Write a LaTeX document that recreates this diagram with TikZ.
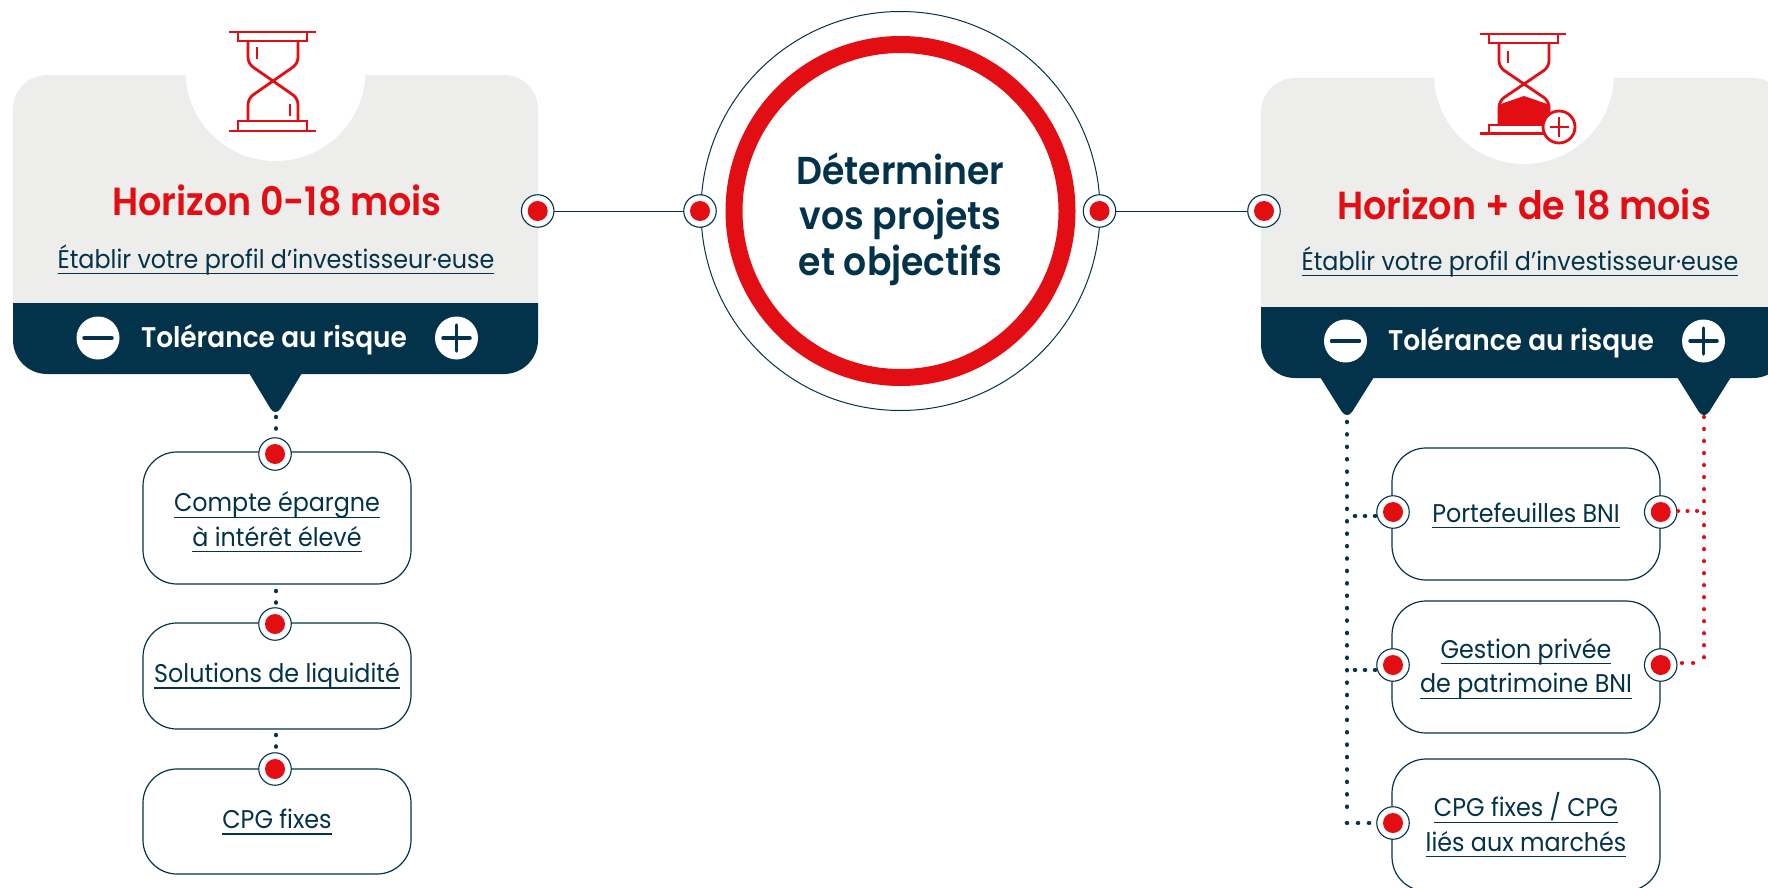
\documentclass[tikz,border=0pt]{standalone}
\usepackage{fontspec}
\setmainfont{Poppins}[BoldFont={Poppins SemiBold},FakeStretch=0.93]
\definecolor{brandnavy}{HTML}{03334A}
\definecolor{brandred}{HTML}{E30E13}
\definecolor{panelgray}{HTML}{EDEDEB}
% underlined text with a fixed strut
\newcommand{\lnktext}[1]{\setbox0=\hbox{#1}\rlap{\rule[-6pt]{\wd0}{1.2pt}}\box0\rule[-8pt]{0pt}{32pt}}
\tikzset{
  port/.style={circle, draw=brandnavy, fill=white, line width=1.1pt, minimum size=32.5pt, inner sep=0pt, outer sep=0pt,
    path picture={\fill[brandred] (path picture bounding box.center) circle (10);}},
  optbox/.style={draw=brandnavy, line width=1.2pt, rounded corners=34pt, minimum width=268pt, inner sep=0pt, outer sep=0pt},
  optlabel/.style={text=brandnavy, align=center, font=\fontsize{25.6}{34.5}\selectfont},
  titletext/.style={text=brandred, anchor=base, font=\fontsize{39.2}{45}\selectfont\bfseries},
  profiletext/.style={text=brandnavy, anchor=base, font=\fontsize{25.6}{30}\selectfont},
  bandtext/.style={text=white, anchor=base, font=\fontsize{28.4}{32}\selectfont\bfseries},
  signdisc/.style={circle, fill=white, minimum size=43pt, inner sep=0pt},
  signbar/.style={draw=brandnavy, line width=3.5pt, line cap=round},
  glassline/.style={draw=brandred, line width=2.8pt},
  navydots/.style={draw=brandnavy, line width=4.6pt, line cap=round, dash pattern=on 0.01pt off 12.4pt},
  reddots/.style={draw=brandred, line width=4.2pt, line cap=round, dash pattern=on 0.01pt off 12pt},
}
\begin{document}
\begin{tikzpicture}[x=1pt, y=-1pt, thick]

  \clip (0,0) rectangle (1768,888);

  % Left panel
  \fill[panelgray, rounded corners=34pt] (13,303) -- (13,75) -- (538,75) -- (538,303);
  \fill[brandnavy, rounded corners=34pt] (13,303) -- (13,374) -- (538,374) -- (538,303);
  \fill[brandnavy, rounded corners=10pt] (249,373) -- (275.5,417) -- (302,373);
  \fill[white] (275.5,71) circle (90);

  % Right panel, runs off the page
  \fill[panelgray, rounded corners=34pt] (1261,307) -- (1261,78) -- (1787,78) -- (1787,307);
  \fill[brandnavy, rounded corners=34pt] (1261,307) -- (1261,378) -- (1787,378) -- (1787,307);
  \fill[brandnavy, rounded corners=10pt] (1320,377) -- (1347,420) -- (1374,377);
  \fill[brandnavy, rounded corners=10pt] (1677,377) -- (1704,420) -- (1731,377);
  \fill[white] (1524,74) circle (90);

  % Hourglass, left
  \draw[glassline] (229,32) -- (316,32);
  \draw[glassline] (238,32) rectangle (307,41);
  \draw[glassline, rounded corners=6pt] (248,41) -- (248,63.6) -- (298,98.4) -- (298,121);
  \draw[glassline, rounded corners=6pt] (298,41) -- (298,63.6) -- (248,98.4) -- (248,121);
  \draw[glassline] (238,121) rectangle (307,131);
  \draw[glassline] (229,131) -- (316,131);
  \draw[glassline] (257,47) -- (257,59);
  \draw[glassline] (290,104) -- (290,116);

  % Hourglass, right
  \draw[glassline] (1480,34) -- (1566,34);
  \draw[glassline] (1489,34) rectangle (1558,43);
  \draw[glassline, rounded corners=6pt] (1499,43) -- (1499,67) -- (1549,101) -- (1549,126);
  \draw[glassline, rounded corners=6pt] (1549,43) -- (1549,67) -- (1499,101) -- (1499,126);
  \fill[brandred] (1498,105) -- (1524,96) -- (1550,105) -- (1550,126) -- (1498,126) -- cycle;
  \draw[glassline] (1489,125) rectangle (1555,133.5);
  \draw[glassline] (1480,133.5) -- (1548,133.5);
  \draw[glassline] (1508,51) -- (1508,63);
  \draw[glassline, fill=white] (1559,127) circle (16);
  \draw[glassline] (1549.5,127) -- (1568.5,127);
  \draw[glassline] (1559,117.5) -- (1559,136.5);

  % Goal circle
  \node (goalOuter) [circle, draw=brandnavy, line width=1pt, minimum size=399pt, outer sep=0pt] at (900.5,211) {};
  \node (goalRing) [circle, draw=brandred, line width=17pt, minimum size=333pt, inner sep=0pt, outer sep=0pt,
    text=brandnavy, align=center, font=\fontsize{38.9}{45.5}\selectfont\bfseries] at (900.5,211)
    {\rule{0pt}{47.5pt}Déterminer\\vos projets\\et objectifs\rule[-10pt]{0pt}{10pt}};

  % Panel texts
  \node (titleShort) [titletext] at (277,215) {Horizon 0-18 mois};
  \node (profileShort) [profiletext] at (276,268) {\lnktext{Établir votre profil d’investisseur·euse}};
  \node (bandShort) [bandtext] at (274,347) {Tolérance au risque};
  \node (minusShort) [signdisc] at (98,338) {};
  \node (plusShort) [signdisc] at (456.5,338) {};
  \draw[signbar] (84,338) -- (112,338);
  \draw[signbar] (443,338) -- (470,338);
  \draw[signbar] (456.5,325) -- (456.5,351);

  \node (titleLong) [titletext] at (1524,219) {Horizon + de 18 mois};
  \node (profileLong) [profiletext] at (1520,270) {\lnktext{Établir votre profil d’investisseur·euse}};
  \node (bandLong) [bandtext] at (1521,350) {Tolérance au risque};
  \node (minusLong) [signdisc] at (1345.5,341) {};
  \node (plusLong) [signdisc] at (1703.5,341) {};
  \draw[signbar] (1331.5,341) -- (1359.5,341);
  \draw[signbar] (1690,341) -- (1717,341);
  \draw[signbar] (1703.5,328) -- (1703.5,354);

  % Option boxes, left
  \node (compteBox) [optbox, minimum height=132pt] at (277,518) {};
  \node (liquidBox) [optbox, minimum height=106pt] at (277,676) {};
  \node (fixedBox) [optbox, minimum height=105pt] at (277,821.5) {};
  \node (compteText) [optlabel] at (277,521) {\lnktext{Compte épargne}\\\lnktext{à intérêt élevé}};
  \node (liquidText) [optlabel] at (277,674.5) {\lnktext{Solutions de liquidité}};
  \node (fixedText) [optlabel] at (277,820.5) {\lnktext{CPG fixes}};

  % Option boxes, right
  \node (bniBox) [optbox, minimum height=132pt] at (1526,514) {};
  \node (privateBox) [optbox, minimum height=132pt] at (1526,667) {};
  \node (marketBox) [optbox, minimum height=132pt] at (1526,825) {};
  \node (bniText) [optlabel] at (1526,514) {\lnktext{Portefeuilles BNI}};
  \node (privateText) [optlabel] at (1526,667.5) {\lnktext{Gestion privée}\\\lnktext{de patrimoine BNI}};
  \node (marketText) [optlabel] at (1526,826) {\lnktext{CPG fixes / CPG}\\\lnktext{liés aux marchés}};

  % Ports
  \node (portShort) [port] at (537.7,211) {};
  \node (portGoalL) [port] at (700,211) {};
  \node (portGoalR) [port] at (1099.5,211) {};
  \node (portLong) [port] at (1264,211) {};
  \node (portCompte) [port] at (275,454) {};
  \node (portLiquid) [port] at (275,624) {};
  \node (portFixed) [port] at (275,769) {};
  \node (portBniL) [port] at (1393,512) {};
  \node (portPrivateL) [port] at (1393,665) {};
  \node (portMarket) [port] at (1393,823) {};
  \node (portBniR) [port] at (1660.7,512) {};
  \node (portPrivateR) [port] at (1660.7,665) {};

  % Connectors
  \draw[draw=brandnavy, line width=1pt] (portShort) -- (portGoalL);
  \draw[draw=brandnavy, line width=1pt] (portGoalR) -- (portLong);

  \coordinate (tipShort) at (276,417);
  \coordinate (tipMinus) at (1347,422);
  \coordinate (tipPlus) at (1704,417);
  \coordinate (stemCompte) at (276,591);
  \coordinate (stemLiquid) at (276,735);

  \draw[navydots, dash pattern=on 0.01pt off 11.5pt] (tipShort) -- (portCompte.north -| tipShort);
  \draw[navydots, dash pattern=on 0.01pt off 11.5pt] (stemCompte) -- (portLiquid.north -| stemCompte);
  \draw[navydots, dash pattern=on 0.01pt off 11.5pt] (stemLiquid) -- (portFixed.north -| stemLiquid);

  % Dotted trunks and their branches
  \coordinate (trunkEnd) at (1347,811);
  \coordinate (footMarket) at (1347,823);
  \coordinate (branchBni) at (1355,516);
  \coordinate (branchPrivate) at (1355,670);
  \draw[navydots] (tipMinus) -- (trunkEnd);
  \draw[navydots, dash pattern=on 0.01pt off 11pt] (footMarket) -- (portMarket.west);
  \draw[navydots, dash pattern=on 0.01pt off 10pt] (branchBni) -- (branchBni -| portBniL.west);
  \draw[navydots, dash pattern=on 0.01pt off 10pt] (branchPrivate) -- (branchPrivate -| portPrivateL.west);

  \coordinate (trunkRedEnd) at (1704,660);
  \coordinate (cornerPrivate) at (1704,663);
  \coordinate (cornerBni) at (1704,511);
  \coordinate (branchRedPrivate) at (1682,663);
  \coordinate (branchRedBni) at (1678,511);
  \draw[reddots] (tipPlus) -- (trunkRedEnd);
  \draw[reddots, dash pattern=on 0.01pt off 9.5pt] (branchRedBni) -- (cornerBni);
  \draw[reddots, dash pattern=on 0.01pt off 11pt] (branchRedPrivate) -- (cornerPrivate);

\end{tikzpicture}
\end{document}
